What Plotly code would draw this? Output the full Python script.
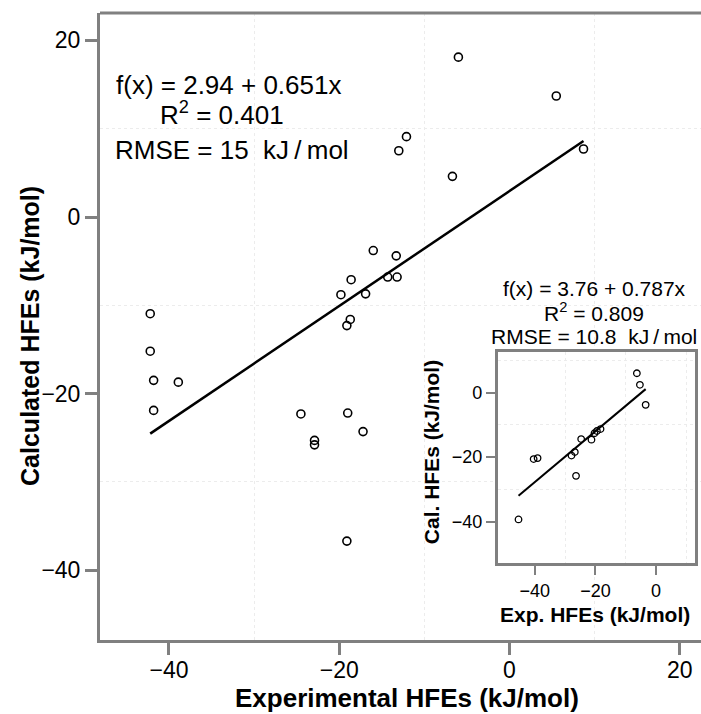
import numpy as np
import plotly.graph_objects as go

# ---------------- data ----------------
main_exp = [-6.0, 5.5, 8.7, -12.1, -13.0, -6.7,
            -42.2, -42.2, -41.8, -38.9, -41.8, -24.5, -22.9, -22.9, -19.0, -17.2,
            -16.0, -13.3, -18.6, -19.8, -16.9, -14.3, -13.2, -18.7, -19.1, -19.1]
main_cal = [18.1, 13.7, 7.7, 9.1, 7.5, 4.6,
            -10.95, -15.2, -18.5, -18.7, -21.9, -22.3, -25.3, -25.8, -22.2, -24.3,
            -3.8, -4.4, -7.1, -8.8, -8.7, -6.8, -6.8, -11.6, -12.3, -36.7]
main_fit = (2.94, 0.651)

inset_exp = [-6.3, -5.3, -3.4, -18.3, -19.5, -20.3, -21.3, -24.7, -26.8, -27.9,
             -26.4, -40.4, -39.1, -45.4]
inset_cal = [6.0, 2.4, -3.8, -11.3, -11.9, -12.6, -14.6, -14.4, -18.4, -19.5,
             -25.8, -20.6, -20.3, -39.3]
inset_fit = (3.76, 0.787)

main_ticks = [-40, -20, 0, 20]
inset_ticks = [-40, -20, 0]
grid_vals = [-30, -10, 10]

FONT = "Liberation Sans, Arial, sans-serif"
GRAY = "#808080"

fig = go.Figure()

# main scatter
fig.add_trace(go.Scatter(x=main_exp, y=main_cal, mode="markers",
                         marker=dict(symbol="circle-open", size=8, color="black",
                                     line=dict(width=1.6, color="black")),
                         xaxis="x", yaxis="y", showlegend=False))
mx = np.array([min(main_exp), max(main_exp)])
fig.add_trace(go.Scatter(x=mx, y=main_fit[0] + main_fit[1] * mx, mode="lines",
                         line=dict(color="black", width=2.5),
                         xaxis="x", yaxis="y", showlegend=False))

# inset scatter
fig.add_trace(go.Scatter(x=inset_exp, y=inset_cal, mode="markers",
                         marker=dict(symbol="circle-open", size=6.5, color="black",
                                     line=dict(width=1.3, color="black")),
                         xaxis="x2", yaxis="y2", showlegend=False))
ix = np.array([min(inset_exp), max(inset_exp)])
fig.add_trace(go.Scatter(x=ix, y=inset_fit[0] + inset_fit[1] * ix, mode="lines",
                         line=dict(color="black", width=2),
                         xaxis="x2", yaxis="y2", showlegend=False))

grid_minor = dict(tickmode="array", tickvals=grid_vals, showgrid=True,
                  gridcolor="#ececec", griddash="dot", gridwidth=1, ticks="")

fig.update_layout(
    width=701, height=714,
    margin=dict(l=100, r=0, t=13, b=74),
    paper_bgcolor="white", plot_bgcolor="white",
    font=dict(family=FONT, color="black"),
    xaxis=dict(domain=[0, 1], range=[-48.1, 22.5], tickmode="array", tickvals=main_ticks,
               ticks="outside", ticklen=12, tickwidth=2.5, tickcolor=GRAY,
               showline=True, linecolor=GRAY, linewidth=3, showgrid=False, zeroline=False,
               ticklabelstandoff=-5,
               tickfont=dict(size=23, family=FONT), minor=grid_minor),
    yaxis=dict(domain=[0, 1], range=[-47.9, 23.1], tickmode="array", tickvals=main_ticks,
               ticks="outside", ticklen=12, tickwidth=2.5, tickcolor=GRAY,
               showline=True, linecolor=GRAY, linewidth=3, showgrid=False, zeroline=False,
               tickfont=dict(size=23, family=FONT), minor=grid_minor),
    xaxis2=dict(domain=[0.6616, 0.9895], range=[-52.3, 12.8], anchor="y2",
                tickmode="array", tickvals=inset_ticks, ticks="outside", ticklen=9,
                tickwidth=2, tickcolor=GRAY, showline=True, mirror=True, linecolor=GRAY,
                linewidth=2.5, showgrid=False, zeroline=False,
                tickfont=dict(size=18, family=FONT), minor=grid_minor),
    yaxis2=dict(domain=[0.1223, 0.4589], range=[-52.9, 12.5], anchor="x2",
                tickmode="array", tickvals=inset_ticks, ticks="outside", ticklen=9,
                tickwidth=2, tickcolor=GRAY, showline=True, mirror=True, linecolor=GRAY,
                linewidth=2.5, showgrid=False, zeroline=False,
                tickfont=dict(size=18, family=FONT), minor=grid_minor),
)

# inset white background
fig.add_shape(type="rect", xref="x2 domain", yref="y2 domain", x0=0, x1=1, y0=0, y1=1,
              fillcolor="white", line=dict(width=0), layer="below")
# top frame line of main plot
fig.add_shape(type="line", xref="paper", yref="paper", x0=0, x1=1, y0=1, y1=1,
              line=dict(color=GRAY, width=3))

nb = "\u00a0"
ann = [
    # main equation text
    dict(x=0.2141, y=0.8852, text=f"f(x){nb}={nb}2.94{nb}+{nb}0.651x", size=26),
    dict(x=0.2038, y=0.8405, text=f"R<sup>2</sup>{nb}={nb}0.401", size=26),
    dict(x=0.2196, y=0.7815, text=f"RMSE{nb}={nb}15{nb}{nb}kJ\u2009/\u2009mol", size=26),
    # inset equation text
    dict(x=0.822, y=0.5614, text=f"f(x){nb}={nb}3.76{nb}+{nb}0.787x", size=21),
    dict(x=0.822, y=0.5236, text=f"R<sup>2</sup>{nb}={nb}0.809", size=21),
    dict(x=0.822, y=0.4833, text=f"RMSE{nb}={nb}10.8{nb}{nb}kJ\u2009/\u2009mol", size=21),
]
for a in ann:
    fig.add_annotation(xref="paper", yref="paper", x=a["x"], y=a["y"], text=a["text"],
                       showarrow=False, xanchor="center", yanchor="middle",
                       font=dict(size=a["size"], family=FONT, color="black"))

titles = [
    dict(x=0.5101, y=-0.0925, text="<b>Experimental HFEs (kJ/mol)</b>", size=26, angle=0),
    dict(x=-0.1165, y=0.4849, text="<b>Calculated HFEs (kJ/mol)</b>", size=25, angle=-90),
    dict(x=0.8236, y=0.0399, text="<b>Exp. HFEs (kJ/mol)</b>", size=21, angle=0),
    dict(x=0.5519, y=0.299, text="<b>Cal. HFEs (kJ/mol)</b>", size=21, angle=-90),
]
for t in titles:
    fig.add_annotation(xref="paper", yref="paper", x=t["x"], y=t["y"], text=t["text"],
                       showarrow=False, xanchor="center", yanchor="middle",
                       textangle=t["angle"],
                       font=dict(size=t["size"], family=FONT, color="black"))

fig.write_html("out.html", config={"displayModeBar": False},
               post_script="document.body.style.margin='0';document.body.style.overflow='hidden';")
